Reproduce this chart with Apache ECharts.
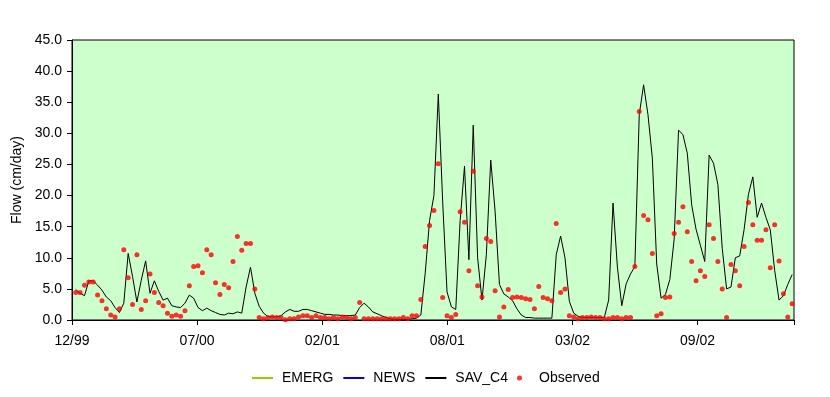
<!DOCTYPE html>
<html>
<head>
<meta charset="utf-8">
<script src="https://cdn.jsdelivr.net/npm/echarts@6/dist/echarts.min.js"></script>
<style>
html,body{margin:0;padding:0;background:#fff;}
#c{width:830px;height:397px;}
</style>
</head>
<body>
<div id="c"></div>
<script>
// Weekly samples; x measured in days from the axis start
const startDay = 6;
const stepDays = 7;
const axisMaxDay = 1157;
const labelStepDays = 200.5;
const tickLabels = ['12/99', '07/00', '02/01', '08/01', '03/02', '09/02'];
const seriesNames = ['EMERG', 'NEWS', 'SAV_C4', 'Observed'];

const emerg = [];
const news = [];

const savC4 = [
  4.9, 4.3, 3.9, 6.3, 6.3, 5.6, 4.8, 3.7, 3.1, 2.0,
  1.2, 2.7, 10.7, 7.0, 2.9, 6.4, 9.5, 4.3, 6.3, 4.6,
  3.2, 3.5, 2.3, 2.1, 2.0, 2.7, 4.0, 3.5, 2.0, 1.5,
  1.9, 1.5, 1.2, 0.9, 0.8, 1.1, 1.0, 1.3, 1.1, 5.3,
  8.5, 4.3, 2.2, 1.1, 0.55, 0.5, 0.5, 0.7, 1.3, 1.7,
  1.4, 1.4, 1.7, 1.7, 1.5, 1.3, 1.1, 0.9, 0.9, 0.8,
  0.8, 0.7, 0.7, 0.7, 0.8, 2.0, 2.7, 2.1, 1.3, 1.0,
  0.7, 0.4, 0.2, 0.1, 0.1, 0.1, 0.1, 0.2, 0.3, 0.8,
  7.5, 16.0, 20.0, 36.3, 19.0, 4.5, 2.1, 1.7, 16.0, 24.7,
  9.7, 31.3, 10.0, 3.2, 10.5, 25.7, 17.5, 5.7, 4.2, 3.7,
  3.1, 1.8, 0.8, 0.4, 0.4, 0.3, 0.3, 0.3, 0.3, 0.3,
  10.5, 13.5, 10.0, 3.0, 1.1, 0.6, 0.4, 0.4, 0.4, 0.4,
  0.4, 0.4, 3.2, 18.8, 8.5, 2.3, 5.8, 7.4, 8.6, 33.0,
  37.8, 33.0, 26.0, 9.0, 3.5, 4.1, 6.5, 13.0, 30.5, 29.8,
  26.8, 18.5, 14.6, 12.0, 9.4, 26.5, 25.2, 21.8, 11.5, 5.0,
  5.3, 10.0, 10.3, 14.5, 20.2, 23.0, 16.5, 18.8, 16.5, 14.5,
  8.0, 3.2, 3.9, 5.7, 7.3
];

const observed = [
  4.4, 4.4, 5.6, 6.1, 6.1, 4.0, 3.1, 1.8, 0.8, 0.5,
  1.8, 11.3, 6.8, 2.5, 10.5, 1.7, 3.1, 7.4, 4.4, 2.8,
  2.3, 1.1, 0.6, 0.8, 0.6, 1.5, 5.5, 8.6, 8.7, 7.6,
  11.3, 10.5, 6.0, 4.1, 5.7, 5.2, 9.4, 13.4, 11.2, 12.3,
  12.3, 5.0, 0.4, 0.2, 0.4, 0.5, 0.4, 0.4, 0.05, 0.2,
  0.2, 0.5, 0.7, 0.7, 0.4, 0.7, 0.4, 0.4, 0.2, 0.4,
  0.2, 0.5, 0.4, 0.2, 0.4, 2.8, 0.2, 0.2, 0.2, 0.2,
  0.2, 0.2, 0.2, 0.2, 0.2, 0.4, 0.2, 0.7, 0.7, 3.3,
  11.8, 15.2, 17.6, 25.1, 3.6, 0.7, 0.4, 0.9, 17.4, 15.7,
  7.9, 23.9, 5.5, 3.7, 13.1, 12.6, 4.7, 0.5, 2.1, 4.9,
  3.6, 3.7, 3.6, 3.4, 3.3, 1.8, 5.4, 3.6, 3.4, 3.1,
  15.5, 4.4, 5.0, 0.7, 0.5, 0.2, 0.4, 0.4, 0.5, 0.4,
  0.4, 0.2, 0.2, 0.4, 0.4, 0.2, 0.4, 0.4, 8.6, 33.5,
  16.8, 16.1, 10.7, 0.7, 1.0, 3.6, 3.7, 13.9, 15.7, 18.2,
  14.2, 9.4, 6.3, 7.9, 7.0, 15.3, 13.1, 9.4, 5.0, 0.4,
  8.9, 7.9, 5.5, 11.8, 18.9, 15.3, 12.8, 12.8, 14.5, 8.4,
  15.3, 9.5, 4.2, 0.5, 2.6
];

const toPairs = arr => arr.map((v, i) => [startDay + stepDays * i, v]);

const chart = echarts.init(document.getElementById('c'), null, {renderer: 'canvas'});
const font = 'Liberation Sans, Arial, sans-serif';

const legendData = seriesNames.map(n => n === 'Observed'
  ? {name: n}
  : {name: n, itemStyle: {opacity: 0}});

chart.setOption({
  animation: false,
  backgroundColor: '#ffffff',
  textStyle: {fontFamily: font},
  grid: {
    left: 72, right: 36, top: 40, bottom: 77,
    show: true, backgroundColor: '#CCFFCC', borderColor: '#000', borderWidth: 1
  },
  legend: {
    left: 246, top: 366,
    itemWidth: 21, itemHeight: 5, itemGap: 9,
    data: legendData,
    textStyle: {fontFamily: font, fontSize: 14, color: '#000', padding: [0, 0, 0, 4]}
  },
  xAxis: {
    type: 'value',
    min: 0, max: axisMaxDay, interval: labelStepDays,
    splitLine: {show: false},
    axisLine: {lineStyle: {color: '#000', width: 1}},
    axisTick: {show: true, length: 5, lineStyle: {color: '#000'}},
    axisLabel: {
      color: '#000', fontSize: 14, fontFamily: font, margin: 14,
      formatter: v => {
        const k = Math.round(v / labelStepDays);
        return tickLabels[k] !== undefined ? tickLabels[k] : '';
      }
    }
  },
  yAxis: {
    type: 'value',
    min: 0, max: 45, interval: 5,
    name: 'Flow (cm/day)', nameLocation: 'middle', nameGap: 38, nameRotate: 90,
    nameTextStyle: {color: '#000', fontSize: 14, fontFamily: font},
    splitLine: {show: false},
    axisLine: {show: true, lineStyle: {color: '#000', width: 1}},
    axisTick: {show: true, length: 5, lineStyle: {color: '#000'}},
    axisLabel: {
      color: '#000', fontSize: 14, fontFamily: font, margin: 10,
      formatter: v => v.toFixed(1)
    }
  },
  series: [
    {name: 'EMERG', type: 'line', data: toPairs(emerg), symbol: 'none',
     lineStyle: {color: '#99CC00', width: 1}, itemStyle: {color: '#99CC00'}},
    {name: 'NEWS', type: 'line', data: toPairs(news), symbol: 'none',
     lineStyle: {color: '#0000FF', width: 1}, itemStyle: {color: '#0000FF'}},
    {name: 'SAV_C4', type: 'line', data: toPairs(savC4), symbol: 'none',
     lineStyle: {color: '#000', width: 1}, itemStyle: {color: '#000'}, z: 3},
    {name: 'Observed', type: 'scatter', data: toPairs(observed), symbol: 'circle',
     symbolSize: 5, itemStyle: {color: '#FF0000'}, z: 4}
  ]
});
</script>
</body>
</html>
